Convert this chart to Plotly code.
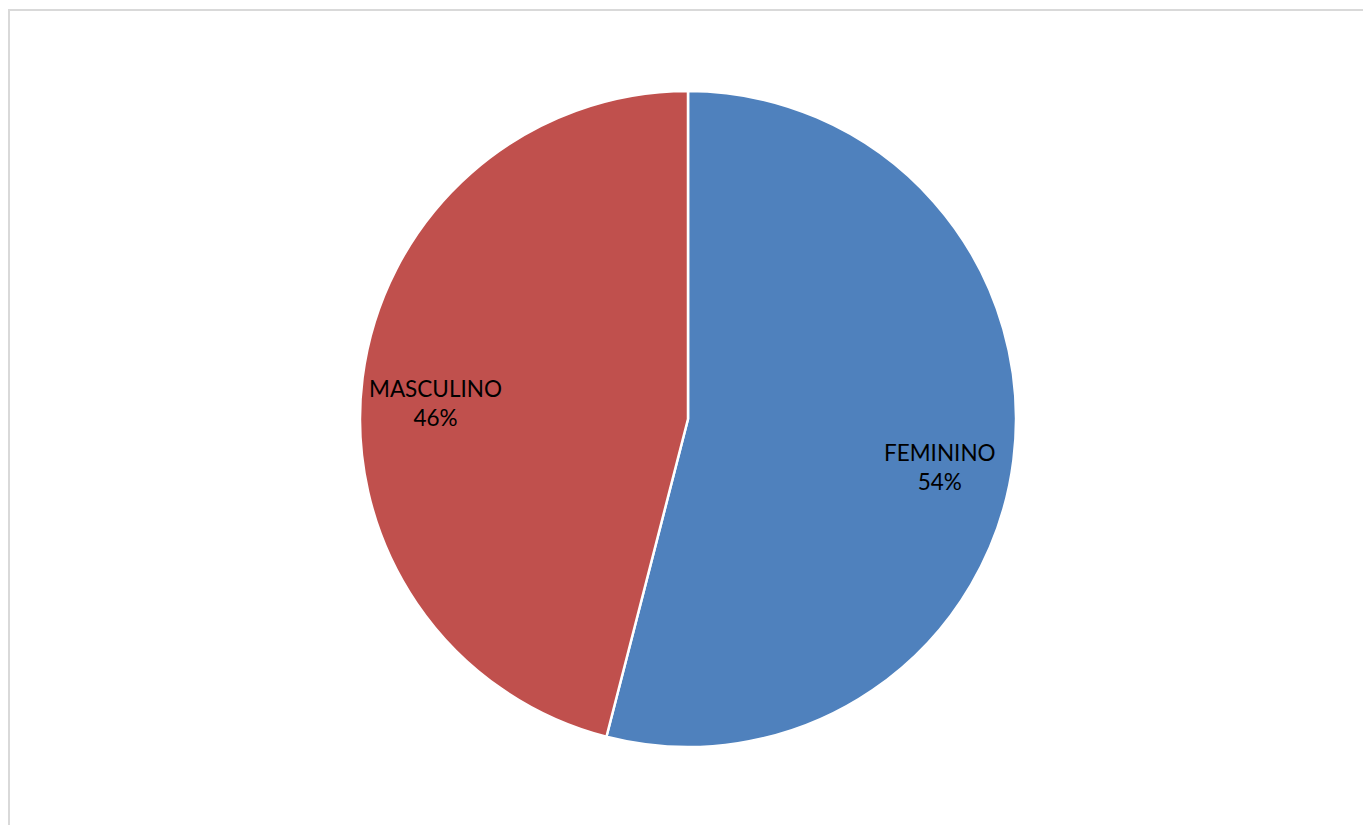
import math
import plotly.graph_objects as go

labels = ["FEMININO", "MASCULINO"]
values = [54, 46]
colors = ["#4F81BD", "#C0504D"]

W, H = 1371, 825
# page has an 8px body offset; coordinates below are in figure pixels
cx, cy, r = 680, 411, 328
label_r = 0.775

fig = go.Figure(go.Pie(
    labels=labels,
    values=values,
    sort=False,
    direction="clockwise",
    rotation=0,
    marker=dict(colors=colors, line=dict(color="white", width=2.5)),
    textinfo="none",
    showlegend=False,
    hoverinfo="label+percent",
    domain=dict(x=[(cx - r) / W, (cx + r) / W], y=[(H - cy - r) / H, (H - cy + r) / H]),
))

total = sum(values)
cum = 0
for lab, v in zip(labels, values):
    mid = (cum + v / 2) / total * 2 * math.pi
    cum += v
    px = cx + label_r * r * math.sin(mid)
    py = cy - label_r * r * math.cos(mid)
    fig.add_annotation(
        x=px / W, y=1 - py / H, xref="paper", yref="paper",
        xanchor="center", yanchor="middle", yshift=-16,
        text=f"{lab}<br>{round(v / total * 100)}%",
        showarrow=False, align="center",
        font=dict(family="Lato", size=22.5, color="black"),
    )

fig.add_shape(type="rect", xref="paper", yref="paper",
              x0=1 / W, x1=1359 / W, y0=-0.1, y1=1 - 2 / H,
              line=dict(color="#D9D9D9", width=2), fillcolor="rgba(0,0,0,0)")

fig.update_layout(
    width=W, height=H,
    margin=dict(l=0, r=0, t=0, b=0),
    paper_bgcolor="white",
    plot_bgcolor="white",
)

fig.write_html("out.html")
